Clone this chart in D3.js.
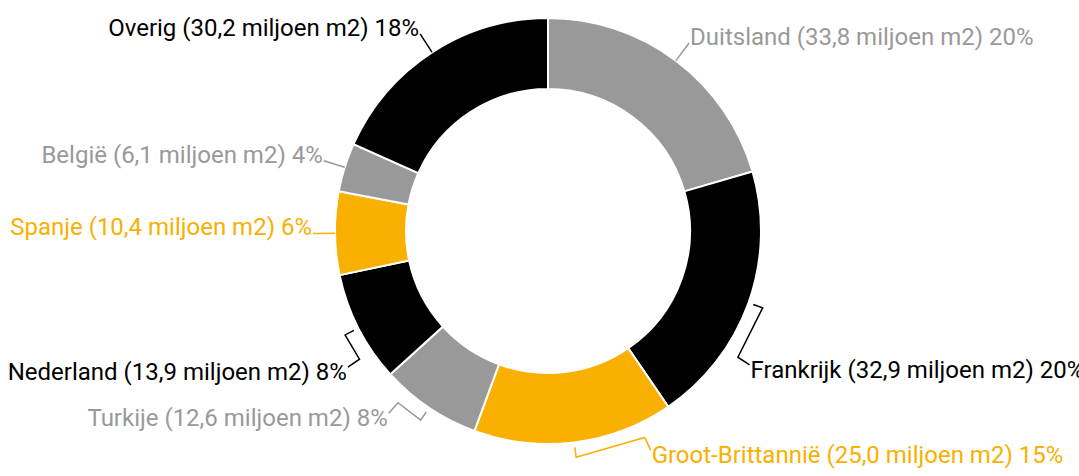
<!DOCTYPE html>
<html>
<head>
<meta charset="utf-8">
<script src="https://cdn.jsdelivr.net/npm/d3@7"></script>
<style>
  html, body { margin: 0; padding: 0; background: white; }
  svg { display: block; }
  text { font-family: Roboto, "Noto Sans", sans-serif; font-size: 24px; }
</style>
</head>
<body>
<script>
// chart values
const countries = ["Duitsland", "Frankrijk", "Groot-Brittannië", "Turkije", "Nederland", "Spanje", "België", "Overig"];
const areas = [33.8, 32.9, 25.0, 12.6, 13.9, 10.4, 6.1, 30.2];

// labels that are moved away from their slice (degrees from mid angle)
const labelShift = {
  "Frankrijk": 13.9,
  "Groot-Brittannië": -18,
  "Turkije": 7.2,
  "Nederland": -7.1
};

const width = 1079;
const height = 476;
const center = { x: 548, y: 231 };
const outer = 213;
const inner = 142;

const color = d3.scaleOrdinal()
  .domain(countries)
  .range(["#999999", "#000000", "#f9b000"]);

const nl = d3.formatLocale({ decimal: ",", thousands: ".", grouping: [3], currency: ["€", ""] });
const fmt = nl.format(".1f");

const data = countries.map((name, i) => ({ name: name, value: areas[i] }));
const total = d3.sum(areas);

const svg = d3.select("body").append("svg")
  .attr("width", width)
  .attr("height", height);

const g = svg.append("g").attr("transform", translate(center.x, center.y));

const pie = d3.pie().sort(null).value(d => d.value);
const arc = d3.arc().innerRadius(inner).outerRadius(outer);
const slices = pie(data);

g.selectAll("path.slice")
  .data(slices)
  .enter()
  .append("path")
  .attr("class", "slice")
  .attr("d", arc)
  .attr("fill", d => color(d.data.name))
  .attr("stroke", "white")
  .attr("stroke-width", 2);

function polar(a, radius) {
  return [radius * Math.sin(a), -radius * Math.cos(a)];
}

const line = d3.line();

slices.forEach(function(d) {
  const mid = (d.startAngle + d.endAngle) / 2;
  const shift = labelShift[d.data.name];
  let points, dy;

  if (shift === undefined) {
    // straight leader line
    points = [polar(mid, outer), polar(mid, outer + 22)];
    dy = 2;
  } else {
    // bracket leader line
    const la = mid + shift * Math.PI / 180;
    points = [polar(mid, outer + 5), polar(mid, outer + 15), polar(la, outer + 15), polar(la, outer + 29)];
    dy = 13;
  }

  const c = color(d.data.name);
  const anchor = points[points.length - 1];
  const right = anchor[0] >= 0;

  g.append("path")
    .attr("d", line(points))
    .attr("fill", "none")
    .attr("stroke", c)
    .attr("stroke-width", 1.5);

  const pct = Math.round(d.data.value / total * 100);

  g.append("text")
    .attr("x", anchor[0] + (right ? 1 : -1))
    .attr("y", anchor[1] + dy)
    .attr("text-anchor", right ? "start" : "end")
    .attr("fill", c)
    .text(d.data.name + " (" + fmt(d.data.value) + " miljoen m2) " + pct + "%");
});

function translate(x, y) {
  return "translate(" + String(x) + "," + String(y) + ")";
}
</script>
</body>
</html>
